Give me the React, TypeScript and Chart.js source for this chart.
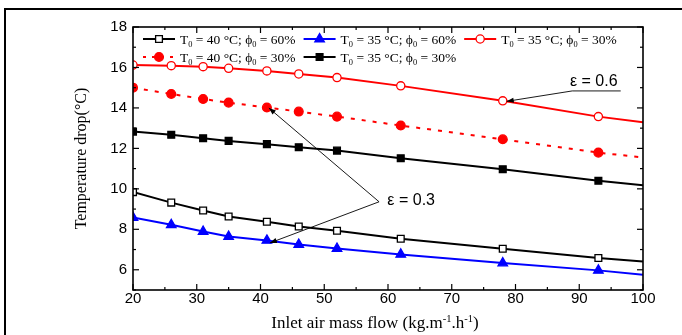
import React, { useEffect, useRef } from "react";
import { Chart, registerables } from "chart.js";

Chart.register(...registerables);

// ---------- data ----------
const massFlow = [20, 26, 31, 35, 41, 46, 52, 62, 78, 93, 100];
const t40phi60 = [9.84, 9.32, 8.93, 8.63, 8.37, 8.14, 7.93, 7.53, 7.04, 6.58, 6.41];
const t35phi60 = [8.58, 8.22, 7.89, 7.64, 7.45, 7.25, 7.05, 6.76, 6.33, 5.97, 5.75];
const t35phi30e06 = [16.12, 16.09, 16.04, 15.96, 15.83, 15.68, 15.5, 15.09, 14.35, 13.57, 13.29];
const t40phi30 = [15.0, 14.69, 14.44, 14.26, 14.02, 13.82, 13.57, 13.13, 12.45, 11.79, 11.55];
const t35phi30 = [12.83, 12.67, 12.5, 12.37, 12.21, 12.06, 11.89, 11.51, 10.97, 10.4, 10.18];

const seriesTemps = [40, 35, 35, 40, 35];
const seriesPhis = [60, 60, 30, 30, 30];

const xTicks = [20, 30, 40, 50, 60, 70, 80, 90, 100];
const yTicks = [6, 8, 10, 12, 14, 16, 18];

const xTitleParts = [
  { t: "Inlet air mass flow (kg.m" },
  { t: "-1", sup: true },
  { t: ".h" },
  { t: "-1", sup: true },
  { t: ")" },
];

// ---------- styles ----------
const SERIF = "'Liberation Serif', 'Times New Roman', serif";
const SANS = "'Liberation Sans', Arial, sans-serif";

type Style = {
  color: string;
  fill: string;
  shape: "rect" | "triangle" | "circle";
  radius: number;
  dash: number[];
};

const styles: Style[] = [
  { color: "#000000", fill: "#ffffff", shape: "rect", radius: 4.8, dash: [] },
  { color: "#0000ff", fill: "#0000ff", shape: "triangle", radius: 5.5, dash: [] },
  { color: "#ff0000", fill: "#ffffff", shape: "circle", radius: 4.1, dash: [] },
  { color: "#ff0000", fill: "#ff0000", shape: "circle", radius: 4.4, dash: [4, 7] },
  { color: "#000000", fill: "#000000", shape: "rect", radius: 4.8, dash: [] },
];

const seriesValues = [t40phi60, t35phi60, t35phi30e06, t40phi30, t35phi30];

function makeDataset(values: number[], st: Style, label: string) {
  const last = values.length - 1;
  return {
    label,
    data: massFlow.map((x, i) => ({ x, y: values[i] })),
    borderColor: st.color,
    backgroundColor: st.fill,
    borderWidth: 2,
    borderDash: st.dash,
    pointStyle: st.shape,
    pointRadius: massFlow.map((_, i) => (i === last ? 0 : st.radius)),
    pointBackgroundColor: st.fill,
    pointBorderColor: st.color,
    pointBorderWidth: 1.3,
    tension: 0,
    fill: false,
  };
}

// ---------- drawing helpers ----------
function drawMarker(ctx: CanvasRenderingContext2D, st: Style, x: number, y: number) {
  ctx.save();
  ctx.setLineDash([]);
  ctx.fillStyle = st.fill;
  ctx.strokeStyle = st.color;
  ctx.lineWidth = 1.3;
  const r = st.radius;
  ctx.beginPath();
  if (st.shape === "circle") {
    ctx.arc(x, y, r, 0, Math.PI * 2);
  } else if (st.shape === "rect") {
    const h = r * Math.SQRT1_2;
    ctx.rect(x - h, y - h, 2 * h, 2 * h);
  } else {
    const s = r;
    ctx.moveTo(x, y - s);
    ctx.lineTo(x + s * 0.866, y + s * 0.5);
    ctx.lineTo(x - s * 0.866, y + s * 0.5);
    ctx.closePath();
  }
  ctx.fill();
  ctx.stroke();
  ctx.restore();
}

type Part = { t: string; sub?: boolean; sup?: boolean };

function richWidth(ctx: CanvasRenderingContext2D, parts: Part[], size: number, family: string) {
  let w = 0;
  for (const p of parts) {
    const s = p.sub || p.sup ? size * 0.62 : size;
    ctx.font = `${s}px ${family}`;
    w += ctx.measureText(p.t).width;
  }
  return w;
}

function drawRich(
  ctx: CanvasRenderingContext2D,
  parts: Part[],
  x: number,
  y: number,
  size: number,
  family: string
) {
  ctx.save();
  ctx.fillStyle = "#000";
  ctx.textBaseline = "alphabetic";
  ctx.textAlign = "left";
  let cx = x;
  for (const p of parts) {
    const s = p.sub || p.sup ? size * 0.62 : size;
    ctx.font = `${s}px ${family}`;
    const dy = p.sub ? size * 0.28 : p.sup ? -size * 0.38 : 0;
    ctx.fillText(p.t, cx, y + dy);
    cx += ctx.measureText(p.t).width;
  }
  ctx.restore();
}

function legendParts(i: number): Part[] {
  return [
    { t: "T" },
    { t: "0", sub: true },
    { t: ` = ${seriesTemps[i]} °C; ϕ` },
    { t: "0", sub: true },
    { t: ` = ${seriesPhis[i]}%` },
  ];
}

function arrow(
  ctx: CanvasRenderingContext2D,
  x1: number,
  y1: number,
  x2: number,
  y2: number
) {
  ctx.beginPath();
  ctx.moveTo(x1, y1);
  ctx.lineTo(x2, y2);
  ctx.stroke();
  const ang = Math.atan2(y2 - y1, x2 - x1);
  const L = 7;
  const W = 2.6;
  ctx.beginPath();
  ctx.moveTo(x2, y2);
  ctx.lineTo(x2 - L * Math.cos(ang) + W * Math.sin(ang), y2 - L * Math.sin(ang) - W * Math.cos(ang));
  ctx.lineTo(x2 - L * Math.cos(ang) - W * Math.sin(ang), y2 - L * Math.sin(ang) + W * Math.cos(ang));
  ctx.closePath();
  ctx.fill();
}

const decorPlugin = {
  id: "decor",
  beforeDraw(chart: any) {
    const ctx = chart.ctx as CanvasRenderingContext2D;
    ctx.save();
    ctx.fillStyle = "#ffffff";
    ctx.fillRect(0, 0, chart.width, chart.height);
    ctx.restore();
  },
  afterDraw(chart: any) {
    const ctx = chart.ctx as CanvasRenderingContext2D;
    const ca = chart.chartArea;
    const xs = chart.scales.x;
    const ys = chart.scales.y;
    ctx.save();
    ctx.strokeStyle = "#000";
    ctx.fillStyle = "#000";
    ctx.setLineDash([]);

    // frame
    ctx.lineWidth = 1.6;
    ctx.strokeRect(ca.left, ca.top, ca.right - ca.left, ca.bottom - ca.top);

    // inward ticks on all four sides
    ctx.lineWidth = 1.2;
    const seg = (a: number, b: number, c: number, d: number) => {
      ctx.beginPath();
      ctx.moveTo(a, b);
      ctx.lineTo(c, d);
      ctx.stroke();
    };
    const xStep = xTicks[1] - xTicks[0];
    for (let i = 0; i < xTicks.length; i++) {
      const v = xTicks[i];
      const px = xs.getPixelForValue(v);
      seg(px, ca.bottom, px, ca.bottom - 6);
      seg(px, ca.top, px, ca.top + 6);
      if (i < xTicks.length - 1) {
        const m = xs.getPixelForValue(v + xStep / 2);
        seg(m, ca.bottom, m, ca.bottom - 3);
        seg(m, ca.top, m, ca.top + 3);
      }
    }
    const yStep = yTicks[1] - yTicks[0];
    for (let i = 0; i < yTicks.length; i++) {
      const v = yTicks[i];
      const py = ys.getPixelForValue(v);
      seg(ca.left, py, ca.left + 6, py);
      seg(ca.right, py, ca.right - 6, py);
      const m = ys.getPixelForValue(v - yStep / 2);
      seg(ca.left, m, ca.left + 3, m);
      seg(ca.right, m, ca.right - 3, m);
    }

    // legend
    const lsize = 13.5;
    const colX = [ca.left + 10, 0, 0];
    const lineLen = 32;
    const gapText = 5;
    const gapItem = 8;
    for (let c = 1; c < 3; c++) {
      const w = richWidth(ctx, legendParts(c - 1), lsize, SERIF);
      colX[c] = colX[c - 1] + lineLen + gapText + w + gapItem;
    }
    const rowY = [ca.top + 12, ca.top + 30];
    for (let i = 0; i < styles.length; i++) {
      const row = i < 3 ? 0 : 1;
      const col = i < 3 ? i : i - 3;
      const st = styles[i];
      const x0 = colX[col];
      const y0 = rowY[row];
      ctx.save();
      ctx.strokeStyle = st.color;
      ctx.lineWidth = 2;
      ctx.setLineDash(st.dash.length ? [3, 6] : []);
      seg(x0, y0, x0 + lineLen, y0);
      ctx.restore();
      drawMarker(ctx, st, x0 + lineLen / 2, y0);
      drawRich(ctx, legendParts(i), x0 + lineLen + gapText, y0 + 4.5, lsize, SERIF);
    }

    // annotations
    ctx.lineWidth = 0.9;
    ctx.strokeStyle = "#000";
    ctx.fillStyle = "#000";
    ctx.font = `16px ${SANS}`;
    ctx.textBaseline = "alphabetic";
    ctx.textAlign = "left";
    // epsilon = 0.6
    const u1x = xs.getPixelForValue(88.9);
    const u2x = xs.getPixelForValue(96.5);
    const uy = ys.getPixelForValue(14.84);
    ctx.fillText("ε = 0.6", xs.getPixelForValue(88.55), ys.getPixelForValue(15.06));
    seg(u1x, uy, u2x, uy);
    const t6x = xs.getPixelForValue(massFlow[8]) + 4;
    const t6y = ys.getPixelForValue(t35phi30e06[8]) + 0.5;
    arrow(ctx, u1x, uy, t6x, t6y);
    // epsilon = 0.3
    ctx.fillText("ε = 0.3", xs.getPixelForValue(59.9), ys.getPixelForValue(9.18));
    const vx = xs.getPixelForValue(58.6);
    const vy = ys.getPixelForValue(9.36);
    arrow(ctx, vx, vy, xs.getPixelForValue(massFlow[4]) + 2, ys.getPixelForValue(t40phi30[4]) + 0.5);
    arrow(ctx, vx, vy, xs.getPixelForValue(massFlow[4]) + 3, ys.getPixelForValue(t35phi60[4]) + 2.5);

    // x-axis title
    const tsize = 17;
    const tw = richWidth(ctx, xTitleParts, tsize, SERIF);
    const tcx = (ca.left + ca.right) / 2 - 13;
    drawRich(ctx, xTitleParts, tcx - tw / 2, ca.bottom + 38, tsize, SERIF);

    // outer figure border
    ctx.lineWidth = 2;
    ctx.strokeStyle = "#000";
    ctx.strokeRect(5, 9, chart.width + 20, chart.height + 20);
    ctx.restore();
  },
};

export default function App() {
  const ref = useRef<HTMLCanvasElement>(null);
  useEffect(() => {
    document.body.style.margin = "0";
    const labels = seriesTemps.map((t, i) => `T0 = ${t} °C; ϕ0 = ${seriesPhis[i]}%`);
    const chart = new Chart(ref.current as HTMLCanvasElement, {
      type: "line",
      data: {
        datasets: seriesValues.map((v, i) => makeDataset(v, styles[i], labels[i])) as any,
      },
      options: {
        responsive: false,
        animation: false,
        devicePixelRatio: 1,
        layout: { padding: { left: 0, top: 27, right: 39, bottom: 0 } },
        plugins: {
          legend: { display: false },
          tooltip: { enabled: false },
        },
        scales: {
          x: {
            type: "linear",
            min: 20,
            max: 100,
            afterBuildTicks: (s: any) => {
              s.ticks = xTicks.map((v) => ({ value: v }));
            },
            afterFit: (s: any) => {
              s.height = 45;
            },
            ticks: {
              font: { family: SANS, size: 15 },
              color: "#000",
              padding: 0,
              maxRotation: 0,
              autoSkip: false,
            },
            grid: { display: false, drawTicks: false, tickLength: 0 },
            border: { display: false },
          },
          y: {
            type: "linear",
            min: 5,
            max: 18,
            afterBuildTicks: (s: any) => {
              s.ticks = yTicks.map((v) => ({ value: v }));
            },
            afterFit: (s: any) => {
              s.width = 133;
            },
            ticks: {
              font: { family: SANS, size: 15 },
              color: "#000",
              padding: 6,
              autoSkip: false,
            },
            grid: { display: false, drawTicks: false, tickLength: 0 },
            border: { display: false },
            title: {
              display: true,
              text: "Temperature drop(°C)",
              font: { family: SERIF, size: 16 },
              color: "#000",
              padding: { top: 72, bottom: 0 },
            },
          },
        },
      } as any,
      plugins: [decorPlugin as any],
    });
    return () => chart.destroy();
  }, []);
  return (
    <div style={{ width: 682, height: 335 }}>
      <canvas
        ref={ref}
        width={682}
        height={335}
        style={{ display: "block", width: "682px", height: "335px" }}
      />
    </div>
  );
}
